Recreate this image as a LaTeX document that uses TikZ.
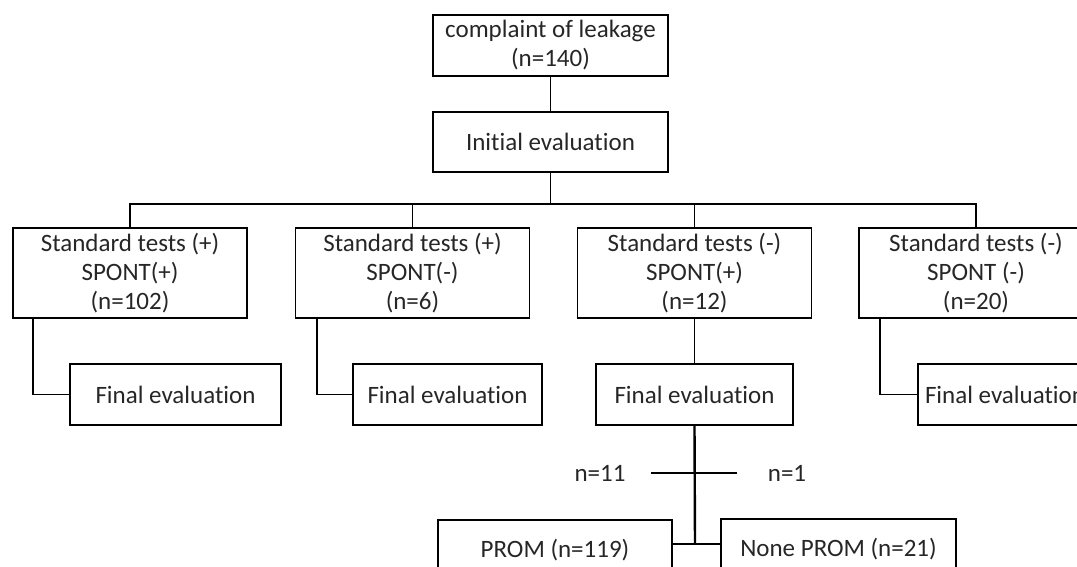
\documentclass[tikz,border=0pt]{standalone}
\usepackage{fontspec}
\setmainfont[Ligatures=NoCommon]{Carlito}
\usetikzlibrary{calc}
\tikzset{
  box/.style={draw, line width=1.8pt, align=center, inner sep=0pt, minimum height=61pt,
    font=\fontsize{25}{29}\selectfont, text=black!85},
  stdbox/.style={box, minimum width=234pt, minimum height=90pt},
  line/.style={line width=1.8pt},
  lbl/.style={font=\fontsize{25}{29}\selectfont, text=black!85, inner sep=0pt}
}
\begin{document}
\begin{tikzpicture}[x=1pt,y=-1pt]
\useasboundingbox (0,0) rectangle (1077,567);
\clip (0,0) rectangle (1077,567);
\node[box, minimum width=235pt] (leak) at (550.5,45.5) {complaint of leakage\\(n=140)};
\node[box, minimum width=235pt, minimum height=60pt] (init) at (550.5,142) {Initial evaluation};
\node[stdbox] (s1) at (130,273) {Standard tests (+)\\SPONT(+)\\(n=102)};
\node[stdbox] (s2) at (412.5,273) {Standard tests (+)\\SPONT(-)\\(n=6)};
\node[stdbox] (s3) at (694.5,273) {Standard tests (-)\\SPONT(+)\\(n=12)};
\node[stdbox] (s4) at (976,273) {Standard tests (-)\\SPONT (-)\\(n=20)};
\node[box, minimum width=211pt] (f1) at (175.5,394.5) {Final evaluation};
\node[box, minimum width=189pt] (f2) at (447.5,394.5) {Final evaluation};
\node[box, minimum width=197pt] (f3) at (694.5,394.5) {Final evaluation};
\node[box, minimum width=174pt] (f4) at (1005,394.5) {Final evaluation};
\node[box, minimum width=234pt] (prom) at (555,550.5) {PROM (n=119)};
\node[box, minimum width=235pt] (none) at (838.5,549.5) {None PROM (n=21)};
\node[lbl] (n11) at (600,473) {n=11};
\node[lbl] (n1) at (787,473) {n=1};
\coordinate (tl) at (651,473);
\coordinate (tr) at (737,473);
\coordinate (join) at (695,544);

\draw[line] (leak) -- (init);
\draw[line] (s1.north) -- ++(0,-23) coordinate (bus) -| (s4.north);
\foreach \b in {s2,s3} \draw[line] (\b.north) -- (\b.north |- bus);
\draw[line] (init.south) -- (init.south |- bus);
\draw[line] ([xshift=21pt]s1.south west) |- (f1.west);
\draw[line] ([xshift=22pt]s2.south west) |- (f2.west);
\draw[line] ([xshift=22pt]s4.south west) |- (f4.west);
\draw[line] (s3.south) -- (f3.north);
\draw[line, line width=2.4pt] (f3.south) -- (join);
\draw[line] (tl) -- (tr);
\draw[line] (prom.east |- join) -- (none.west |- join);
\end{tikzpicture}
\end{document}
